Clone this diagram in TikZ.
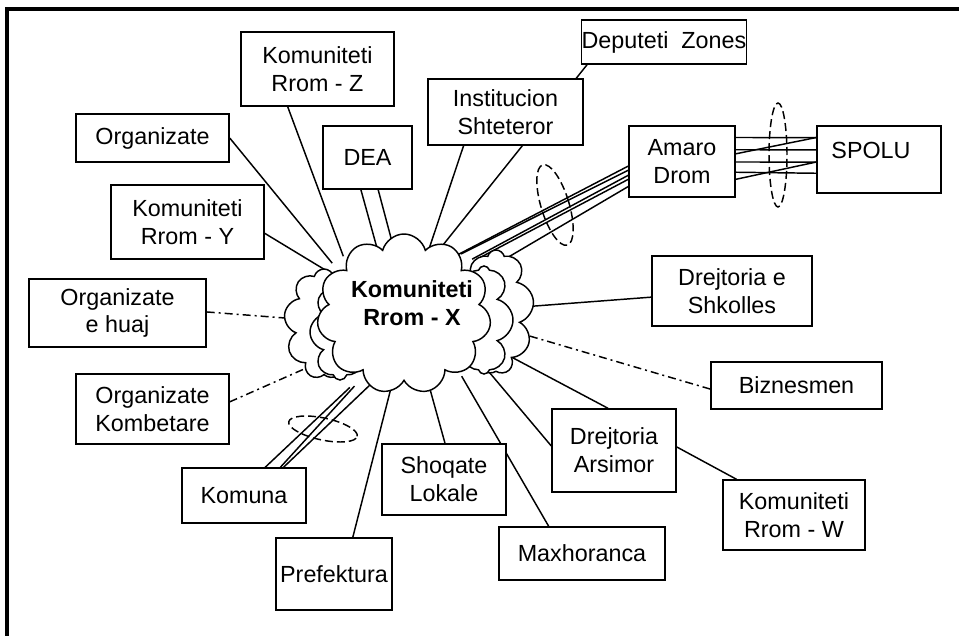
\documentclass[tikz,border=0pt]{standalone}
\usepackage{fontspec}
\setmainfont{Liberation Sans}
\usetikzlibrary{shapes.symbols,backgrounds,calc}
\newcommand\fsz{\fontsize{17.5}{20.8}\selectfont}
\newcommand\bx[6]{\node[box, minimum width={(#4-#2)*0.75pt}, minimum height={(#5-#3)*0.75pt}] (#1) at ({(#2+#4)/2},{(#3+#5)/2}) {#6};}
\begin{document}
\begin{tikzpicture}[x=0.75pt,y=-0.75pt,
  box/.style={draw, fill=white, line width=1.1pt, inner sep=0pt, align=center, font=\fsz},
  conn/.style={line width=1.1pt, shorten >=-5pt},
  ddot/.style={conn, dash pattern=on 6pt off 3pt on 1.5pt off 3pt},
  plain/.style={line width=1.1pt},
  ell/.style={line width=1.1pt, dash pattern=on 6pt off 3pt},
  cl/.style={cloud, draw, fill=white, line width=1.1pt, cloud ignores aspect, inner sep=0pt}
]
\useasboundingbox (0,0) rectangle (959,635);
\begin{scope}
\clip (0,0) rectangle (959,635);
\draw[line width=2.3pt] (7,9) rectangle (1100,800);
\end{scope}

% boxes
\bx{Z}{241}{32}{394}{106}{Komuniteti\\Rrom - Z}
\bx{Org}{76}{114}{229}{162}{Organizate}
\bx{DEA}{323}{126}{412}{189}{DEA}
\bx{Y}{111}{185}{264}{259}{Komuniteti\\Rrom - Y}
\bx{Inst}{428}{79}{583}{145}{Institucion\\Shteteror}
\bx{Dep}{582}{20}{746}{64}{Deputeti~ Zones}
\bx{Amaro}{629}{126}{735}{197}{Amaro\\Drom}
\bx{Spolu}{817}{126}{941}{193}{}
\node[font=\fsz, inner sep=0pt] (SpoluT) at (871,150) {SPOLU};
\bx{Shk}{652}{256}{812}{326}{Drejtoria e\\Shkolles}
\bx{Biz}{711}{362}{882}{409}{Biznesmen}
\bx{Ars}{552}{409}{676}{492}{Drejtoria\\Arsimor}
\bx{W}{723}{480}{865}{550}{Komuniteti\\Rrom - W}
\bx{Max}{499}{527}{665}{580}{Maxhoranca}
\bx{Sho}{382}{444}{506}{515}{Shoqate\\Lokale}
\bx{Pref}{276}{538}{392}{610}{Prefektura}
\bx{Kmn}{182}{468}{306}{523}{Komuna}
\bx{Kmb}{76}{374}{229}{444}{Organizate\\Kombetare}
\bx{Huaj}{29}{279}{206}{347}{Organizate\\e huaj}

% cloud (layered outlines)
\node[cl, cloud puffs=9, minimum width=80*0.75pt, minimum height=110*0.75pt] (CL) at (324,324) {};
\node[cl, cloud puffs=8, minimum width=60*0.75pt, minimum height=96*0.75pt] (CL2) at (340,332) {};
\node[cl, cloud puffs=9, minimum width=76*0.75pt, minimum height=124*0.75pt] (CR) at (496,312) {};
\node[cl, cloud puffs=8, minimum width=58*0.75pt, minimum height=108*0.75pt] (CR2) at (484,320) {};
\node[cl, cloud puffs=11, minimum width=174*0.75pt, minimum height=160*0.75pt] (X) at (404,314) {};
\node[font=\bfseries\fsz, align=center, inner sep=0pt] (XT) at (412,303) {Komuniteti\\Rrom - X};

% cloud-side points
\coordinate (cZ) at (341,250);
\coordinate (cOrg) at (328,258);
\coordinate (cY) at (322,268);
\coordinate (cD1) at (377,248);
\coordinate (cD2) at (391,238);
\coordinate (cI) at (431,243);
\coordinate (cDep) at (447,240);
\coordinate (cA1) at (463,252);
\coordinate (cA2) at (467,251);
\coordinate (cA3) at (478,256);
\coordinate (cA4) at (483,256);
\coordinate (cA5) at (500,262);
\coordinate (cShk) at (535,306);
\coordinate (cBiz) at (533,337);
\coordinate (cArs1) at (517,360);
\coordinate (cArs2) at (484,366);
\coordinate (cMax) at (465,382);
\coordinate (cSho) at (428,382);
\coordinate (cPref) at (391,388);
\coordinate (cK1) at (345,392);
\coordinate (cK2) at (350,391);
\coordinate (cK3) at (372,383);
\coordinate (cHuaj) at (285,318);
\coordinate (cKmb) at (320,362);

\begin{pgfonlayer}{background}
\draw[conn] ($(Z.south west)!0.307!(Z.south east)$) -- (cZ);
\draw[conn] (Org.east) -- (cOrg);
\draw[conn] ($(Y.north east)!0.65!(Y.south east)$) -- (cY);
\draw[conn] ($(DEA.south west)!0.427!(DEA.south east)$) -- (cD1);
\draw[conn] ($(DEA.south west)!0.618!(DEA.south east)$) -- (cD2);
\draw[conn] ($(Inst.south west)!0.232!(Inst.south east)$) -- (cI);
\draw[conn] ($(Dep.south west)!0.037!(Dep.south east)$) -- (cDep);
\draw[conn] ($(Amaro.north west)!0.563!(Amaro.south west)$) -- (cA1);
\draw[conn] ($(Amaro.north west)!0.62!(Amaro.south west)$) -- (cA2);
\draw[conn] ($(Amaro.north west)!0.69!(Amaro.south west)$) -- (cA3);
\draw[conn] ($(Amaro.north west)!0.746!(Amaro.south west)$) -- (cA4);
\draw[conn] ($(Amaro.north west)!0.845!(Amaro.south west)$) -- (cA5);
% Amaro - SPOLU
\draw[plain] ($(Amaro.north east)!0.169!(Amaro.south east)$) -- ($(Spolu.north west)!0.179!(Spolu.south west)$);
\draw[plain] ($(Amaro.north east)!0.338!(Amaro.south east)$) -- ($(Spolu.north west)!0.358!(Spolu.south west)$);
\draw[plain] ($(Amaro.north east)!0.394!(Amaro.south east)$) -- ($(Spolu.north west)!0.179!(Spolu.south west)$);
\draw[plain] ($(Amaro.north east)!0.507!(Amaro.south east)$) -- ($(Spolu.north west)!0.537!(Spolu.south west)$);
\draw[plain] ($(Amaro.north east)!0.648!(Amaro.south east)$) -- ($(Spolu.north west)!0.701!(Spolu.south west)$);
\draw[plain] ($(Amaro.north east)!0.746!(Amaro.south east)$) -- ($(Spolu.north west)!0.537!(Spolu.south west)$);
% right / bottom
\draw[conn] ($(Shk.north west)!0.586!(Shk.south west)$) -- (cShk);
\draw[ddot] ($(Biz.north west)!0.574!(Biz.south west)$) -- (cBiz);
\draw[conn] ($(Ars.north west)!0.452!(Ars.north east)$) -- (cArs1);
\draw[conn] ($(Ars.north west)!0.446!(Ars.south west)$) -- (cArs2);
\draw[plain] ($(Ars.north east)!0.458!(Ars.south east)$) -- ($(W.north west)!0.099!(W.north east)$);
\draw[conn] ($(Max.north west)!0.301!(Max.north east)$) -- (cMax);
\draw[conn] ($(Sho.north west)!0.508!(Sho.north east)$) -- (cSho);
\draw[conn] ($(Pref.north west)!0.66!(Pref.north east)$) -- (cPref);
\draw[conn] ($(Kmn.north west)!0.669!(Kmn.north east)$) -- (cK1);
\draw[conn] ($(Kmn.north west)!0.79!(Kmn.north east)$) -- (cK2);
\draw[conn] ($(Kmn.north west)!0.815!(Kmn.north east)$) -- (cK3);
\draw[ddot] ($(Huaj.north east)!0.485!(Huaj.south east)$) -- (cHuaj);
\draw[ddot] ($(Kmb.north east)!0.4!(Kmb.south east)$) -- (cKmb);
\end{pgfonlayer}

% dashed ellipses
\draw[ell] (555,205) ellipse [x radius=10.5pt, y radius=31.5pt, rotate=17];
\draw[ell] (778,155) ellipse [x radius=6.75pt, y radius=39pt, rotate=0];
\draw[ell] (323,429) ellipse [x radius=26.25pt, y radius=8.25pt, rotate=-12];
\end{tikzpicture}
\end{document}
